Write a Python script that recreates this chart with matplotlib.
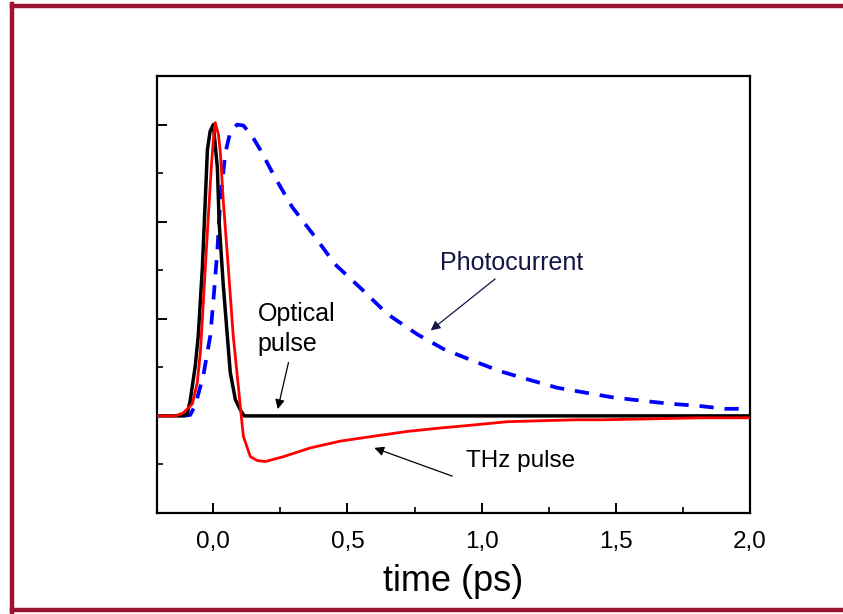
import matplotlib
matplotlib.use('Agg')

import matplotlib.pyplot as plt
from matplotlib.lines import Line2D
from matplotlib.ticker import MultipleLocator

plt.rcParams['font.family'] = ['Liberation Sans', 'DejaVu Sans']

# optical pulse (black)
t_opt = [-0.209, -0.112, -0.097, -0.086, -0.067, -0.056, -0.041, -0.030, -0.022,
         -0.012, 0.0, 0.015, 0.022, 0.037, 0.052, 0.063, 0.082, 0.101, 0.115, 2.0]
y_opt = [0.0, 0.0, 0.02, 0.16, 0.52, 0.83, 1.52, 2.22, 2.74,
         2.93, 3.0, 2.56, 1.98, 1.35, 0.83, 0.45, 0.17, 0.06, 0.0, 0.0]

# THz pulse (red)
t_thz = [-0.209, -0.142, -0.112, -0.078, -0.060, -0.048, -0.037, -0.022, -0.007,
         0.0, 0.007, 0.019, 0.026, 0.037, 0.056, 0.074, 0.093, 0.104, 0.112,
         0.138, 0.164, 0.194, 0.261, 0.361, 0.473, 0.596, 0.723, 0.845, 0.968,
         1.095, 1.218, 1.356, 1.453, 1.639, 1.814, 2.0]
y_thz = [0.0, 0.0, 0.03, 0.125, 0.34, 0.66, 1.18, 1.9, 2.58,
         2.84, 3.02, 2.9, 2.72, 2.22, 1.52, 0.83, 0.31, 0.0, -0.21,
         -0.42, -0.46, -0.47, -0.42, -0.33, -0.26, -0.21, -0.16, -0.125, -0.094,
         -0.06, -0.05, -0.04, -0.04, -0.03, -0.02, -0.02]

# photocurrent (blue dashed)
t_pc = [-0.112, -0.086, -0.067, -0.037, -0.011, 0.0, 0.015, 0.026, 0.045, 0.063,
        0.089, 0.112, 0.145, 0.175, 0.231, 0.294, 0.369, 0.454, 0.555, 0.648,
        0.760, 0.857, 0.965, 1.069, 1.173, 1.281, 1.385, 1.490, 1.598, 1.702,
        1.806, 1.907, 2.0]
y_pc = [0.0, 0.01, 0.11, 0.42, 0.83, 1.18, 1.70, 2.22, 2.71, 2.92,
        3.0, 2.99, 2.88, 2.74, 2.45, 2.15, 1.88, 1.56, 1.30, 1.05,
        0.84, 0.69, 0.57, 0.46, 0.375, 0.29, 0.24, 0.19, 0.156, 0.125,
        0.104, 0.073, 0.073]

x_ticks = [0.0, 0.5, 1.0, 1.5, 2.0]
x_labels = ["0,0", "0,5", "1,0", "1,5", "2,0"]

fig = plt.figure(figsize=(8.43, 6.14), dpi=100)
ax = fig.add_axes([0.1862, 0.1645, 0.7035, 0.7117])

ax.plot(t_pc, y_pc, color='#0000ff', lw=2.7, dashes=(3.8, 2.9), zorder=2)
ax.plot(t_opt, y_opt, color='black', lw=2.5, zorder=3)
ax.plot(t_thz, y_thz, color='#ff0000', lw=2.0, zorder=4)

ax.set_xlim(-0.21, 2.0)
ax.set_ylim(-1.0, 3.5)

ax.set_xticks(x_ticks)
ax.set_xticklabels(x_labels)
ax.xaxis.set_minor_locator(MultipleLocator(0.25))
ax.yaxis.set_major_locator(MultipleLocator(1))
ax.yaxis.set_minor_locator(MultipleLocator(0.5))
ax.set_yticklabels([])
ax.tick_params(which='major', direction='in', length=7, width=1.4, labelsize=17.5, pad=13)
ax.tick_params(which='minor', direction='in', length=4, width=1.2)
for s in ax.spines.values():
    s.set_linewidth(1.6)

ax.set_xlabel("time (ps)", fontsize=26, labelpad=8)

# annotations
ax.text(0.165, 0.62, "Optical\npulse", fontsize=18, ha='left', va='bottom',
        linespacing=1.3)
ax.annotate("", xy=(0.24, 0.07), xytext=(0.28, 0.55),
            arrowprops=dict(arrowstyle='-|>', color='black', lw=0.9,
                            mutation_scale=14, shrinkA=0, shrinkB=0))

ax.text(0.845, 1.45, "Photocurrent", fontsize=18, color='#141446',
        ha='left', va='bottom')
ax.annotate("", xy=(0.81, 0.88), xytext=(1.05, 1.41),
            arrowprops=dict(arrowstyle='-|>', color='#141446', lw=0.9,
                            mutation_scale=14, shrinkA=0, shrinkB=0))

ax.text(0.94, -0.58, "THz pulse", fontsize=17.5, ha='left', va='bottom')
ax.annotate("", xy=(0.60, -0.33), xytext=(0.89, -0.62),
            arrowprops=dict(arrowstyle='-|>', color='black', lw=0.9,
                            mutation_scale=14, shrinkA=0, shrinkB=0))

# maroon frame on top, left and bottom
frame_col = '#9e1430'
W, H = 843.0, 614.0
fig.add_artist(Line2D([12 / W, 1.0], [1 - 6 / H, 1 - 6 / H], color=frame_col, lw=3.2))
fig.add_artist(Line2D([12 / W, 12 / W], [1 - 4 / H, 1 - 612 / H], color=frame_col, lw=3.2))
fig.add_artist(Line2D([12 / W, 1.0], [1 - 610 / H, 1 - 610 / H], color=frame_col, lw=3.2))

fig.savefig("out.png", dpi=100)
